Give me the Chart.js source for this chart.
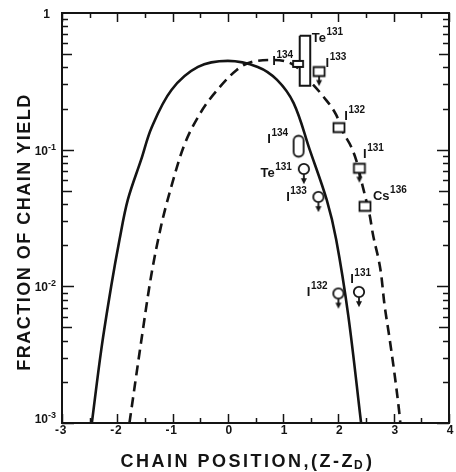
<!DOCTYPE html>
<html lang="en">
<head>
<meta charset="UTF-8">
<title>Fraction of chain yield</title>
<script src="https://cdn.jsdelivr.net/npm/chart.js"></script>
<style>
  html, body { margin: 0; padding: 0; background: #fff; }
  #wrap { width: 456px; height: 472px; }
</style>
</head>
<body>
<div id="wrap"><canvas id="yieldChart"></canvas></div>
<script>
// axis ranges
const xMin = -3, xMax = 4;
const yMin = 0.001, yMax = 1;
const xTicks = [-3, -2, -1, 0, 1, 2, 3, 4];
const yTickVals = [1, 0.1, 0.01, 0.001];
const yTickExp = ['', '-1', '-2', '-3'];

// solid curve
const solidX = [-2.46, -2.29, -2.11, -1.96, -1.81, -1.57, -1.375, -1.02, -0.54, 0.0, 0.54, 0.89, 1.19, 1.48, 1.79, 1.96, 2.18, 2.41];
const solidY = [0.001, 0.00343, 0.0100, 0.0219, 0.0429, 0.0841, 0.1466, 0.2735, 0.403, 0.446, 0.403, 0.324, 0.219, 0.100, 0.0427, 0.0219, 0.00603, 0.001];

// dashed curve
const dashX = [-1.78, -1.57, -1.39, -1.21, -1.04, -0.80, -0.50, -0.14, 0.16, 0.36, 0.77, 1.19, 1.49, 1.73, 1.96, 2.08, 2.23, 2.32, 2.44, 2.50, 2.57, 2.62, 2.77, 2.83, 2.92, 3.005, 3.095, 3.12];
const dashY = [0.001, 0.00389, 0.01175, 0.0274, 0.0507, 0.105, 0.1845, 0.289, 0.383, 0.429, 0.453, 0.417, 0.315, 0.244, 0.1795, 0.1355, 0.1052, 0.0841, 0.0537, 0.0429, 0.0324, 0.0245, 0.01247, 0.00752, 0.00429, 0.00245, 0.00125, 0.001];

// measured points
const sqUpX = [1.65, 2.38];          // squares, upper limits
const sqUpY = [0.373, 0.0731];
const sqX = [2.01, 2.48];            // squares
const sqY = [0.145, 0.0385];
const circUpX = [1.375, 1.638, 2.0, 2.371];   // circles, upper limits
const circUpY = [0.0722, 0.0451, 0.00887, 0.0091];
const pillX = [1.28];
const pillY = [0.106];
const smallX = [1.27];
const smallY = [0.424];
const teBoxX = [1.30, 1.49];         // Te131 range box
const teBoxY = [0.294, 0.682];

// labels (base text + superscript mass number)
const labelBase = ['Te', 'I', 'I', 'I', 'I', 'Cs', 'I', 'Te', 'I', 'I', 'I'];
const labelSup = ['131', '134', '133', '132', '131', '136', '134', '131', '133', '132', '131'];
const labelX = [1.518, 0.804, 1.768, 2.107, 2.446, 2.625, 0.714, 0.589, 1.054, 1.429, 2.214];
const labelY = [0.6135, 0.4165, 0.4027, 0.1649, 0.087, 0.0429, 0.112, 0.0632, 0.0421, 0.00851, 0.01059];

const INK = '#141414';
const FONT = '"Liberation Sans", Arial, sans-serif';

function pts(xs, ys) {
    return xs.map((v, i) => ({ x: v, y: ys[i] }));
}

// little canvases used as point styles
function glyph(kind, arrow) {
    const c = document.createElement('canvas');
    const w = 18;
    const half = arrow ? 22 : 15;
    c.width = w;
    c.height = half * 2;
    const g = c.getContext('2d');
    const cx = w / 2, cy = half;
    g.lineWidth = 1.8;
    g.strokeStyle = INK;
    g.fillStyle = '#fff';
    let bottom = cy;
    g.beginPath();
    if (kind === 'square') {
        g.rect(cx - 5.5, cy - 4.5, 11, 9);
        bottom = cy + 4.5;
    } else if (kind === 'circle') {
        g.arc(cx, cy, 5.2, 0, Math.PI * 2);
        bottom = cy + 5.2;
    } else if (kind === 'pill') {
        g.arc(cx, cy - 5.5, 5, Math.PI, 0);
        g.lineTo(cx + 5, cy + 5.5);
        g.arc(cx, cy + 5.5, 5, 0, Math.PI);
        g.closePath();
        bottom = cy + 10.5;
    } else if (kind === 'small') {
        g.rect(cx - 5, cy - 3, 10, 6);
        bottom = cy + 3;
    }
    g.fill();
    g.stroke();
    if (arrow) {
        g.beginPath();
        g.moveTo(cx, bottom);
        g.lineTo(cx, bottom + 5);
        g.stroke();
        g.beginPath();
        g.moveTo(cx - 3, bottom + 4);
        g.lineTo(cx + 3, bottom + 4);
        g.lineTo(cx, bottom + 10);
        g.closePath();
        g.fillStyle = INK;
        g.fill();
    }
    return c;
}

function markerSet(xs, ys, style) {
    return {
        data: pts(xs, ys),
        pointStyle: style,
        pointRadius: 6,
        showLine: false
    };
}

const teBox = [
    { x: teBoxX[0], y: teBoxY[1] },
    { x: teBoxX[1], y: teBoxY[1] },
    { x: teBoxX[1], y: teBoxY[0] },
    { x: teBoxX[0], y: teBoxY[0] },
    { x: teBoxX[0], y: teBoxY[1] }
];

// frame, inward ticks, tick labels, axis titles, point labels
const decorations = {
    id: 'decorations',
    afterDatasetsDraw(chart) {
        const { ctx, chartArea: a, scales: { x, y } } = chart;
        ctx.save();
        ctx.strokeStyle = INK;
        ctx.fillStyle = INK;

        ctx.lineWidth = 1.5;
        ctx.beginPath();
        for (let v = xMin; v <= xMax; v += 0.5) {
            const px = Math.round(x.getPixelForValue(v)) + 0.5;
            const len = Number.isInteger(v) ? 9 : 5;
            ctx.moveTo(px, a.bottom);
            ctx.lineTo(px, a.bottom - len);
            ctx.moveTo(px, a.top);
            ctx.lineTo(px, a.top + len);
        }
        for (let d = -3; d < 0; d++) {
            for (let m = 1; m <= 9; m++) {
                const py = Math.round(y.getPixelForValue(m * Math.pow(10, d))) + 0.5;
                const len = m === 1 ? 12 : (m === 5 ? 10 : 6);
                ctx.moveTo(a.left, py);
                ctx.lineTo(a.left + len, py);
                ctx.moveTo(a.right, py);
                ctx.lineTo(a.right - len, py);
            }
        }
        ctx.stroke();

        ctx.lineWidth = 2;
        ctx.strokeRect(a.left, a.top, a.right - a.left, a.bottom - a.top);

        // x tick labels
        ctx.font = 'bold 12px ' + FONT;
        ctx.textBaseline = 'alphabetic';
        xTicks.forEach(v => {
            const px = x.getPixelForValue(v);
            const digit = String(Math.abs(v));
            ctx.textAlign = 'center';
            ctx.fillText(digit, px + 1, a.bottom + 11);
            if (v < 0) {
                ctx.textAlign = 'right';
                ctx.fillText('-', px - 3, a.bottom + 11);
            }
        });

        // y tick labels
        yTickVals.forEach((v, i) => {
            const py = y.getPixelForValue(v);
            if (yTickExp[i] === '') {
                ctx.font = 'bold 12px ' + FONT;
                ctx.textAlign = 'right';
                ctx.fillText('1', a.left - 12, py + 5);
                return;
            }
            const base = Math.min(py + 5, a.bottom);
            ctx.font = 'bold 9px ' + FONT;
            ctx.textAlign = 'right';
            ctx.fillText(yTickExp[i], a.left - 6, base - 5);
            const w = ctx.measureText(yTickExp[i]).width;
            ctx.font = 'bold 12px ' + FONT;
            ctx.fillText('10', a.left - 6 - w, base);
        });

        // axis titles
        ctx.font = 'bold 18px ' + FONT;
        ctx.letterSpacing = '1.5px';
        ctx.textAlign = 'center';
        ctx.save();
        ctx.translate(30, (a.top + a.bottom) / 2 + 14);
        ctx.rotate(-Math.PI / 2);
        ctx.fillText('FRACTION OF CHAIN YIELD', 0, 0);
        ctx.restore();

        ctx.letterSpacing = '2.5px';
        ctx.textAlign = 'left';
        const t1 = 'CHAIN POSITION,(Z-Z';
        const w1 = ctx.measureText(t1).width;
        ctx.font = 'bold 12px ' + FONT;
        const wd = ctx.measureText('D').width;
        ctx.font = 'bold 18px ' + FONT;
        const w2 = ctx.measureText(')').width;
        let tx = (a.left + a.right) / 2 - 8 - (w1 + wd + w2) / 2;
        const ty = a.bottom + 44;
        ctx.fillText(t1, tx, ty);
        ctx.font = 'bold 12px ' + FONT;
        ctx.fillText('D', tx + w1 - 1, ty + 2);
        ctx.font = 'bold 18px ' + FONT;
        ctx.fillText(')', tx + w1 + wd, ty);
        ctx.letterSpacing = '0px';

        // point labels
        labelBase.forEach((b, i) => {
            const px = x.getPixelForValue(labelX[i]);
            const py = y.getPixelForValue(labelY[i]);
            ctx.font = 'bold 13px ' + FONT;
            ctx.fillText(b, px, py);
            const bw = ctx.measureText(b).width;
            ctx.font = 'bold 10px ' + FONT;
            ctx.fillText(labelSup[i], px + bw + 0.5, py - 7);
        });
        ctx.restore();
    }
};

new Chart(document.getElementById('yieldChart'), {
    type: 'scatter',
    data: {
        datasets: [
            markerSet(smallX, smallY, glyph('small', false)),
            markerSet(sqUpX, sqUpY, glyph('square', true)),
            markerSet(sqX, sqY, glyph('square', false)),
            markerSet(circUpX, circUpY, glyph('circle', true)),
            markerSet(pillX, pillY, glyph('pill', false)),
            {
                data: teBox,
                showLine: true,
                borderColor: INK,
                borderWidth: 2,
                backgroundColor: '#fff',
                fill: 'shape',
                pointRadius: 0,
                tension: 0
            },
            {
                data: pts(solidX, solidY),
                showLine: true,
                borderColor: INK,
                borderWidth: 2.6,
                pointRadius: 0,
                tension: 0.35
            },
            {
                data: pts(dashX, dashY),
                showLine: true,
                borderColor: INK,
                borderWidth: 2.6,
                borderDash: [10, 6],
                pointRadius: 0,
                cubicInterpolationMode: 'monotone'
            }
        ]
    },
    options: {
        responsive: true,
        maintainAspectRatio: false,
        animation: false,
        layout: { padding: { left: 62, top: 13, right: 2, bottom: 49 } },
        plugins: {
            legend: { display: false },
            tooltip: { enabled: false }
        },
        scales: {
            x: { type: 'linear', min: xMin, max: xMax, display: false },
            y: { type: 'logarithmic', min: yMin, max: yMax, display: false }
        }
    },
    plugins: [decorations]
});
</script>
</body>
</html>
